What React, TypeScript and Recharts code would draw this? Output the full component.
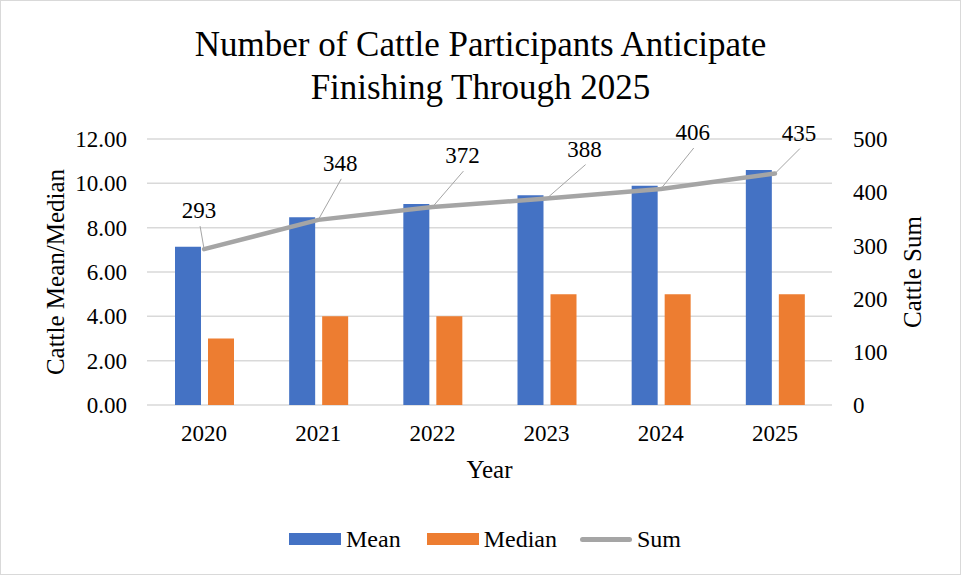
import React from 'react';
import {
  ComposedChart, Bar, Line, XAxis, YAxis, CartesianGrid, LabelList,
} from 'recharts';

const years = ['2020', '2021', '2022', '2023', '2024', '2025'];
const meanValues = [7.14, 8.47, 9.07, 9.46, 9.89, 10.6];
const medianValues = [3, 4, 4, 5, 5, 5];
const sumValues = [293, 348, 372, 388, 406, 435];
const leftTicks = [0, 2, 4, 6, 8, 10, 12];
const rightTicks = [0, 100, 200, 300, 400, 500];

const chartData = years.map((year, i) => ({
  year,
  mean: meanValues[i],
  median: medianValues[i],
  sum: sumValues[i],
}));

// where each sum label sits, relative to its point (Excel moved them by hand)
const labelOffsets: [number, number][] = [
  [-5, -39], [22, -57], [30, -52], [38, -50], [32, -57], [24, -41],
];

const FONT = 'serif';
const BLUE = '#4472C4';
const ORANGE = '#ED7D31';
const GRAY = '#A5A5A5';

function SumLabel(props: any) {
  const { x, y, value, index } = props;
  if (x == null || y == null) return null;
  const [dx, dy] = labelOffsets[index] || [0, -30];
  const cx = x + dx;
  const cy = y + dy;
  return (
    <g>
      <line x1={cx + 1} y1={cy + 16} x2={x} y2={y} stroke={GRAY} strokeWidth={1} />
      <text x={cx} y={cy + 8} textAnchor="middle" fontSize={23} fontFamily={FONT} fill="#000">
        {value}
      </text>
    </g>
  );
}

export default function App() {
  const tickStyle = { fill: '#000', fontSize: 23, fontFamily: FONT };
  return (
    <div style={styles.frame}>
      <div style={styles.title}>
        Number of Cattle Participants Anticipate
        <br />
        Finishing Through 2025
      </div>
      <div style={{ position: 'absolute', left: -1, top: -1 }}>
        <ComposedChart
          width={961}
          height={575}
          data={chartData}
          margin={{ top: 139, right: 29, bottom: 90, left: 47 }}
          barGap={7}
        >
          <CartesianGrid yAxisId="left" vertical={false} stroke="#d9d9d9" strokeWidth={1.5} />
          <XAxis
            dataKey="year"
            height={80}
            axisLine={false}
            tickLine={false}
            tickSize={0}
            tickMargin={20}
            tick={tickStyle}
            label={{ value: 'Year', position: 'insideBottom', offset: 7, fontSize: 25, fontFamily: FONT, fill: '#000' }}
          />
          <YAxis
            yAxisId="left"
            width={100}
            domain={[0, 12]}
            ticks={leftTicks}
            tickFormatter={(v: number) => v.toFixed(2)}
            axisLine={false}
            tickLine={false}
            tickSize={0}
            tickMargin={20}
            tick={tickStyle}
            label={{
              value: 'Cattle Mean/Median',
              angle: -90,
              position: 'insideLeft',
              offset: 8,
              style: { textAnchor: 'middle' },
              fontSize: 25,
              fontFamily: FONT,
              fill: '#000',
            }}
          />
          <YAxis
            yAxisId="right"
            orientation="right"
            width={100}
            domain={[0, 500]}
            ticks={rightTicks}
            axisLine={false}
            tickLine={false}
            tickSize={0}
            tickMargin={21}
            tick={tickStyle}
            label={{
              value: 'Cattle Sum',
              angle: -90,
              position: 'insideRight',
              offset: 20,
              style: { textAnchor: 'middle' },
              fontSize: 25,
              fontFamily: FONT,
              fill: '#000',
            }}
          />
          <Bar yAxisId="left" dataKey="mean" name="Mean" fill={BLUE} barSize={26} isAnimationActive={false} />
          <Bar yAxisId="left" dataKey="median" name="Median" fill={ORANGE} barSize={26} isAnimationActive={false} />
          <Line
            yAxisId="right"
            dataKey="sum"
            name="Sum"
            type="linear"
            stroke={GRAY}
            strokeWidth={4.5}
            strokeLinecap="round"
            dot={false}
            activeDot={false}
            isAnimationActive={false}
          >
            <LabelList dataKey="sum" content={SumLabel} />
          </Line>
        </ComposedChart>
      </div>

      <div style={styles.legend}>
        <span style={{ ...styles.swatch, background: BLUE }} />
        <span style={styles.legendText}>Mean</span>
        <span style={{ ...styles.swatch, background: ORANGE, marginLeft: 26 }} />
        <span style={styles.legendText}>Median</span>
        <span style={{ ...styles.lineSwatch, marginLeft: 23 }} />
        <span style={styles.legendText}>Sum</span>
      </div>
    </div>
  );
}

const styles: Record<string, React.CSSProperties> = {
  frame: {
    position: 'absolute',
    left: 0,
    top: 0,
    width: 959,
    height: 573,
    border: '1px solid #d9d9d9',
    background: '#fff',
    overflow: 'hidden',
    fontFamily: FONT,
  },
  title: {
    position: 'absolute',
    left: 0,
    top: 22,
    width: 959,
    textAlign: 'center',
    fontSize: 35,
    lineHeight: '43px',
    color: '#000',
  },
  legend: {
    position: 'absolute',
    left: 288,
    top: 521,
    height: 34,
    display: 'flex',
    alignItems: 'center',
    fontSize: 24,
    color: '#000',
  },
  swatch: {
    display: 'inline-block',
    width: 52,
    height: 12,
  },
  lineSwatch: {
    display: 'inline-block',
    width: 52,
    height: 5,
    borderRadius: 3,
    background: GRAY,
  },
  legendText: {
    marginLeft: 5,
  },
};
